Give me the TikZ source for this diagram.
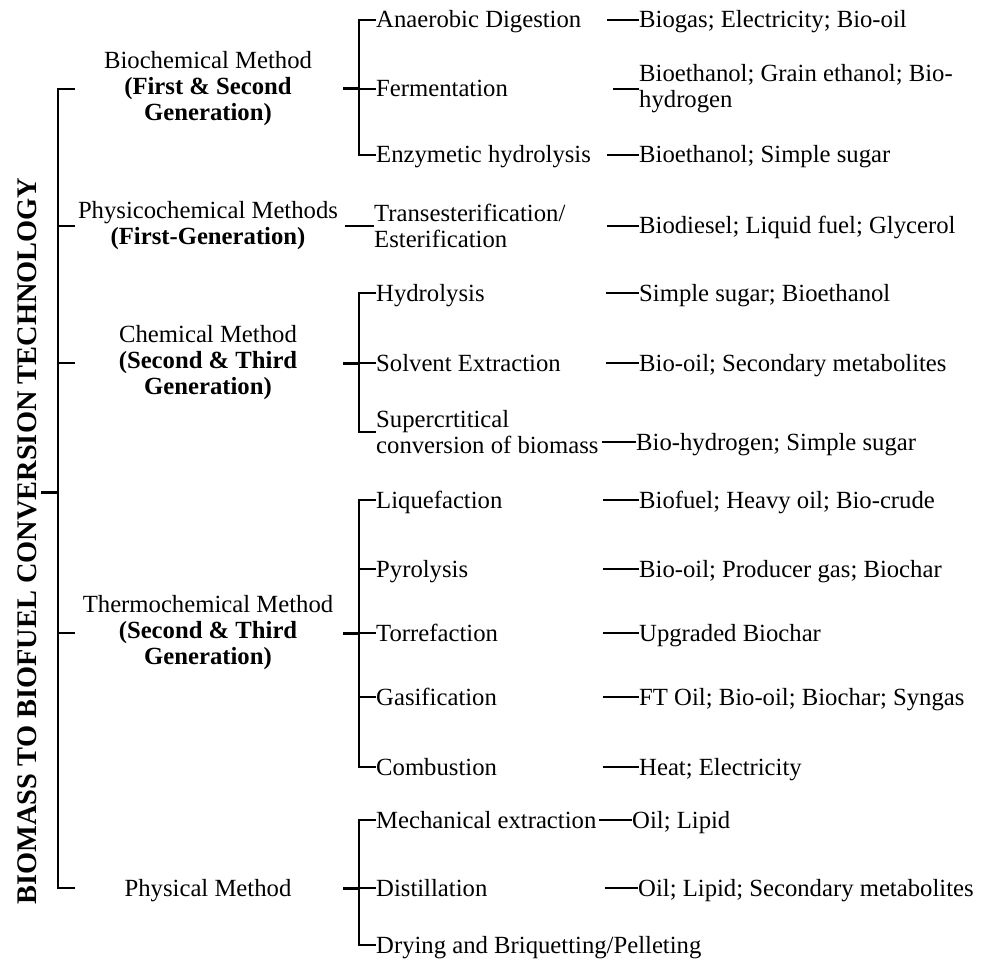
\documentclass[tikz,border=0pt]{standalone}
\usepackage{fontspec}
\setmainfont{Liberation Serif}
\newcommand{\bodyfs}{\fontsize{24.7}{26}\selectfont}
\begin{document}
\begin{tikzpicture}[x=1pt,y=-1pt,
  ln/.style={line width=2pt},
  thk/.style={line width=3pt},
  lone/.style={anchor=west, inner sep=0pt, text height=16pt, text depth=0pt, font=\bodyfs},
  multi/.style={anchor=west, inner sep=0pt, align=left, font=\bodyfs},
  lvl/.style={anchor=center, inner sep=0pt, align=center, font=\bodyfs},
  lvlone/.style={anchor=center, inner sep=0pt, text height=16pt, text depth=0pt, font=\bodyfs},
  ttl/.style={rotate=90, anchor=center, inner sep=0pt, text height=19pt, text depth=0pt, font=\bfseries\fontsize{28.4}{30}\selectfont}
]
\useasboundingbox (0,0) rectangle (988,960);

% title and root
\node[ttl] (title) at (27,541) {BIOMASS TO BIOFUEL CONVERSION TECHNOLOGY};
\coordinate (r0) at (41,492);
\coordinate (r1) at (58,492);
\draw[thk] (r0) -- (r1);

% level 1 labels
\node[lvl] (bio) at (208,89) {Biochemical Method\\\textbf{(First \& Second}\\\textbf{Generation)}};
\node[lvl] (phy) at (208,226) {Physicochemical Methods\\\textbf{(First-Generation)}};
\node[lvl] (che) at (208,363) {Chemical Method\\\textbf{(Second \& Third}\\\textbf{Generation)}};
\node[lvl] (the) at (208,633) {Thermochemical Method\\\textbf{(Second \& Third}\\\textbf{Generation)}};
\node[lvlone] (pm) at (208,888) {Physical Method};

% main bracket
\coordinate (m1) at (75,89);
\coordinate (m2) at (75,226);
\coordinate (m3) at (75,363);
\coordinate (m4) at (75,633);
\coordinate (m5) at (75,888);
\draw[ln] (m1) -- (58,89) -- (58,888) -- (m5);
\draw[ln] (m2) -- (58,226);
\draw[ln] (m3) -- (58,363);
\draw[ln] (m4) -- (58,633);

% level 2 : biochemical
\node[lone] (ad) at (376,20) {Anaerobic Digestion};
\node[lone] (fe) at (376,89) {Fermentation};
\node[lone] (eh) at (376,155) {Enzymetic hydrolysis};
\coordinate (b1) at (343,89);
\draw[ln] (ad.west) -- (359,20) -- (359,155) -- (eh.west);
\draw[ln] (fe.west) -- (359,89);
\draw[thk] (b1) -- (359,89);

% level 2 : physicochemical
\node[multi] (tr) at (374,226) {Transesterification/\\Esterification};
\coordinate (b2) at (345,226);
\draw[ln] (b2) -- (tr.west);

% level 2 : chemical
\node[lone] (hy) at (376,293) {Hydrolysis};
\node[lone] (se) at (376,363) {Solvent Extraction};
\node[multi] (sc) at (376,432) {Supercrtitical\\conversion of biomass};
\coordinate (b3) at (343,363);
\draw[ln] (hy.west) -- (359,293) -- (359,432) -- (sc.west);
\draw[ln] (se.west) -- (359,363);
\draw[thk] (b3) -- (359,363);

% level 2 : thermochemical
\node[lone] (li) at (376,500) {Liquefaction};
\node[lone] (py) at (376,569) {Pyrolysis};
\node[lone] (to) at (376,633) {Torrefaction};
\node[lone] (ga) at (376,697) {Gasification};
\node[lone] (co) at (376,767) {Combustion};
\coordinate (b4) at (343,633);
\draw[ln] (li.west) -- (359,500) -- (359,767) -- (co.west);
\draw[ln] (py.west) -- (359,569);
\draw[ln] (to.west) -- (359,633);
\draw[ln] (ga.west) -- (359,697);
\draw[thk] (b4) -- (359,633);

% level 2 : physical
\node[lone] (me) at (376,820) {Mechanical extraction};
\node[lone] (di) at (376,888) {Distillation};
\node[lone] (dr) at (376,945) {Drying and Briquetting/Pelleting};
\coordinate (b5) at (343,888);
\draw[ln] (me.west) -- (359,820) -- (359,945) -- (dr.west);
\draw[ln] (di.west) -- (359,888);
\draw[thk] (b5) -- (359,888);

% level 3 products
\node[lone] (p1) at (639,20) {Biogas; Electricity; Bio-oil};
\draw[ln] (p1.west) -- ++(-32,0);
\node[multi] (p2) at (639,89) {Bioethanol; Grain ethanol; Bio-\\hydrogen};
\draw[ln] (p2.west) -- ++(-26,0);
\node[lone] (p3) at (639,155) {Bioethanol; Simple sugar};
\draw[ln] (p3.west) -- ++(-32,0);
\node[lone] (p4) at (639,226) {Biodiesel; Liquid fuel; Glycerol};
\draw[ln] (p4.west) -- ++(-32,0);
\node[lone] (p5) at (639,293) {Simple sugar; Bioethanol};
\draw[ln] (p5.west) -- ++(-33,0);
\node[lone] (p6) at (639,363) {Bio-oil; Secondary metabolites};
\draw[ln] (p6.west) -- ++(-33,0);
\node[lone] (p7) at (636,442) {Bio-hydrogen; Simple sugar};
\draw[ln] (p7.west) -- ++(-34,0);
\node[lone] (p8) at (639,500) {Biofuel; Heavy oil; Bio-crude};
\draw[ln] (p8.west) -- ++(-36,0);
\node[lone] (p9) at (639,569) {Bio-oil; Producer gas; Biochar};
\draw[ln] (p9.west) -- ++(-36,0);
\node[lone] (p10) at (639,633) {Upgraded Biochar};
\draw[ln] (p10.west) -- ++(-36,0);
\node[lone] (p11) at (639,697) {FT Oil; Bio-oil; Biochar; Syngas};
\draw[ln] (p11.west) -- ++(-36,0);
\node[lone] (p12) at (639,767) {Heat; Electricity};
\draw[ln] (p12.west) -- ++(-36,0);
\node[lone] (p13) at (632,820) {Oil; Lipid};
\draw[ln] (p13.west) -- ++(-33,0);
\node[lone] (p14) at (638,888) {Oil; Lipid; Secondary metabolites};
\draw[ln] (p14.west) -- ++(-33,0);
\end{tikzpicture}
\end{document}
